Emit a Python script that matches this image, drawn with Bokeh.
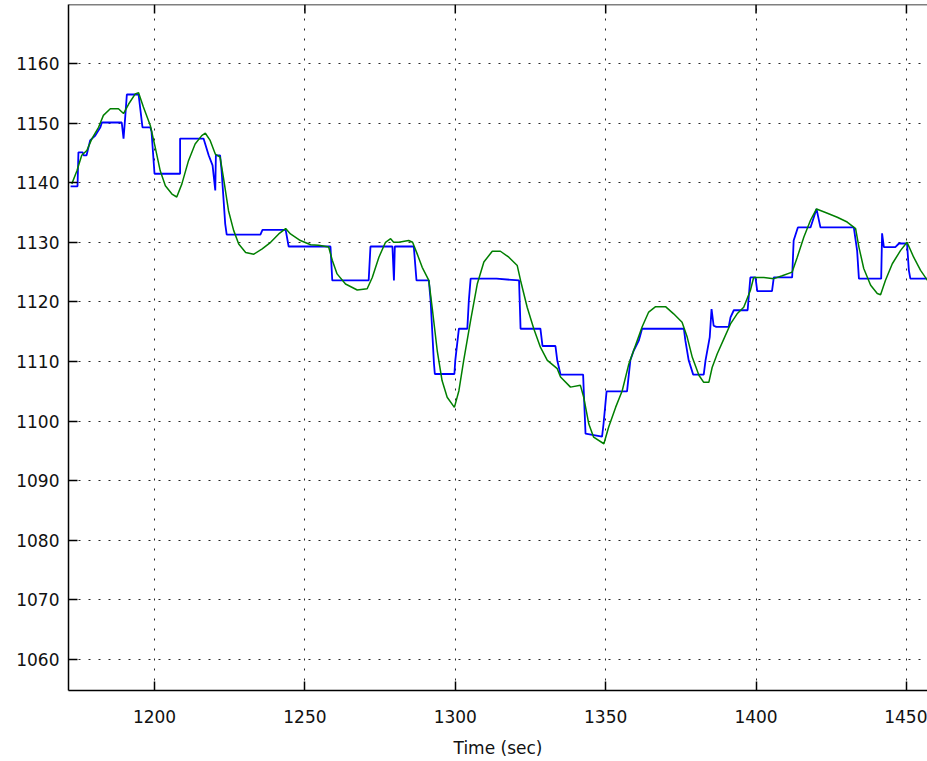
from bokeh.plotting import figure
from bokeh.models import Range1d, FixedTicker, Span
from bokeh.embed import file_html
from bokeh.resources import INLINE

x_ticks = [1200, 1250, 1300, 1350, 1400, 1450]
y_ticks = [1060, 1070, 1080, 1090, 1100, 1110, 1120, 1130, 1140, 1150, 1160]

blue_t = [1172.1, 1174.4, 1174.7, 1176.1, 1176.4, 1177.4, 1178.6, 1180.3, 1182.0, 1182.5,
          1189.1, 1189.7, 1190.3, 1190.8, 1194.7, 1196.0, 1198.6, 1199.0, 1200.0, 1208.5,
          1208.5, 1216.3, 1218.0, 1219.3, 1220.2, 1220.4, 1221.8, 1222.3, 1223.5, 1224.0,
          1235.2, 1235.9, 1243.6, 1244.6, 1258.5, 1259.1, 1271.2, 1271.8, 1279.1, 1279.6,
          1279.9, 1286.2, 1287.1, 1291.2, 1291.8, 1292.9, 1293.2, 1299.7, 1300.0, 1301.2,
          1304.0, 1304.5, 1305.1, 1313.7, 1321.2, 1321.7, 1328.3, 1329.0, 1333.3, 1333.9,
          1335.0, 1342.5, 1342.8, 1343.3, 1348.8, 1349.3, 1350.3, 1357.1, 1358.2, 1359.3,
          1361.0, 1362.1, 1376.0, 1376.5, 1377.6, 1379.1, 1382.6, 1383.2, 1384.6, 1385.2,
          1385.9, 1386.8, 1390.9, 1391.5, 1392.6, 1397.2, 1398.1, 1399.8, 1400.4, 1405.3,
          1405.9, 1412.0, 1412.5, 1413.9, 1418.1, 1420.1, 1421.4, 1432.5, 1433.6, 1434.2,
          1441.6, 1441.9, 1442.5, 1446.3, 1447.5, 1450.2, 1450.8, 1451.3, 1457.0]
blue_v = [1139.4, 1139.4, 1145.1, 1145.1, 1144.6, 1144.6, 1147.1, 1147.9, 1149.3, 1150.1,
          1150.1, 1147.4, 1151.3, 1154.8, 1154.8, 1149.3, 1149.3, 1148.6, 1141.5, 1141.5,
          1147.4, 1147.4, 1144.6, 1142.9, 1138.7, 1144.6, 1144.6, 1142.0, 1133.1, 1131.3,
          1131.3, 1132.1, 1132.1, 1129.3, 1129.3, 1123.6, 1123.6, 1129.3, 1129.3, 1123.6,
          1129.3, 1129.3, 1123.6, 1123.6, 1120.2, 1109.7, 1107.9, 1107.9, 1110.2, 1115.5,
          1115.5, 1120.2, 1123.9, 1123.9, 1123.6, 1115.5, 1115.5, 1112.6, 1112.6, 1110.2,
          1107.8, 1107.8, 1104.0, 1097.9, 1097.4, 1099.6, 1105.0, 1105.0, 1110.2, 1111.8,
          1113.5, 1115.5, 1115.5, 1113.5, 1110.2, 1107.8, 1107.8, 1110.2, 1114.1, 1118.8,
          1116.0, 1115.8, 1115.8, 1117.4, 1118.6, 1118.6, 1124.1, 1124.1, 1121.8, 1121.8,
          1124.1, 1124.1, 1130.3, 1132.5, 1132.5, 1135.6, 1132.5, 1132.5, 1128.6, 1123.9,
          1123.9, 1131.5, 1129.2, 1129.2, 1129.8, 1129.8, 1125.3, 1123.9, 1123.9]

green_t = [1172.5, 1174.2, 1175.8, 1177.5, 1179.2, 1181.4, 1183.0, 1185.3, 1188.0, 1189.7,
           1191.4, 1193.6, 1194.7, 1196.3, 1198.6, 1200.2, 1201.9, 1203.6, 1205.8, 1207.4,
           1209.1, 1211.3, 1213.5, 1215.7, 1216.9, 1218.5, 1220.2, 1221.8, 1222.9, 1224.6,
           1226.3, 1228.0, 1230.3, 1233.0, 1235.8, 1238.6, 1241.3, 1243.6, 1245.2, 1248.5,
           1251.9, 1254.6, 1257.9, 1259.1, 1260.7, 1263.5, 1267.4, 1270.7, 1272.4, 1274.6,
           1276.8, 1278.5, 1279.5, 1281.2, 1284.5, 1285.8, 1287.3, 1289.0, 1291.2, 1292.3,
           1294.0, 1295.6, 1297.3, 1299.7, 1301.2, 1302.8, 1305.1, 1307.3, 1309.5, 1312.3,
           1315.0, 1317.8, 1320.6, 1321.7, 1323.9, 1326.1, 1328.3, 1330.6, 1333.9, 1335.0,
           1338.3, 1341.6, 1342.7, 1344.4, 1346.0, 1349.4, 1351.0, 1353.3, 1355.5, 1357.7,
           1359.9, 1362.1, 1364.3, 1366.6, 1369.9, 1372.6, 1375.4, 1377.1, 1378.8, 1381.0,
           1382.6, 1384.3, 1385.4, 1387.1, 1389.3, 1391.5, 1393.7, 1395.9, 1398.1, 1399.2,
           1402.6, 1405.9, 1408.7, 1412.0, 1413.7, 1415.9, 1418.1, 1420.1, 1423.1, 1427.0,
           1430.3, 1433.1, 1434.2, 1435.8, 1438.1, 1440.3, 1441.4, 1443.0, 1445.3, 1448.0,
           1450.2, 1452.4, 1454.7, 1457.0]
green_v = [1139.8, 1142.0, 1144.6, 1145.4, 1147.4, 1149.3, 1151.3, 1152.4, 1152.4, 1151.6,
           1153.2, 1154.9, 1155.1, 1152.7, 1149.6, 1146.0, 1142.0, 1139.5, 1138.1, 1137.6,
           1139.8, 1143.7, 1146.5, 1147.9, 1148.3, 1147.1, 1144.8, 1144.3, 1140.9, 1135.3,
           1132.0, 1129.7, 1128.3, 1128.0, 1128.9, 1130.0, 1131.4, 1132.3, 1131.4, 1130.3,
           1129.6, 1129.5, 1129.2, 1127.0, 1124.7, 1123.0, 1122.0, 1122.2, 1124.1, 1127.5,
           1130.0, 1130.6, 1130.0, 1130.0, 1130.3, 1130.0, 1128.1, 1125.8, 1123.6, 1119.1,
           1111.8, 1106.8, 1104.0, 1102.3, 1105.1, 1110.2, 1116.9, 1123.0, 1126.7, 1128.5,
           1128.5, 1127.5, 1126.1, 1123.6, 1119.1, 1115.5, 1112.4, 1110.2, 1108.8, 1107.4,
           1105.7, 1106.0, 1104.0, 1099.5, 1097.3, 1096.2, 1099.0, 1102.3, 1105.1, 1109.6,
           1112.7, 1115.8, 1118.3, 1119.2, 1119.2, 1118.0, 1116.6, 1114.1, 1110.7, 1107.7,
           1106.5, 1106.5, 1109.0, 1111.3, 1113.8, 1116.3, 1118.0, 1119.1, 1121.9, 1124.1,
           1124.1, 1123.9, 1124.4, 1125.0, 1127.5, 1130.9, 1133.7, 1135.6, 1135.0, 1134.2,
           1133.4, 1132.3, 1129.2, 1125.6, 1122.8, 1121.4, 1121.2, 1123.6, 1126.4, 1128.6,
           1130.0, 1127.5, 1125.3, 1123.6]

FONT = "DejaVu Sans"
X0, X1 = 1171.4, 1457.0
Y0, Y1 = 1054.8, 1169.9

p = figure(width=927, height=761, output_backend="svg", toolbar_location=None,
           x_range=Range1d(X0, X1), y_range=Range1d(Y0, Y1),
           min_border_left=68, min_border_right=0, min_border_top=4, min_border_bottom=71)
p.outline_line_color = None
p.background_fill_color = "white"
p.border_fill_color = "white"

p.xaxis.axis_label = "Time (sec)"
for ax, ticks in ((p.xaxis, x_ticks), (p.yaxis, y_ticks)):
    ax.ticker = FixedTicker(ticks=ticks)
    ax.major_tick_in = 9
    ax.major_tick_out = 0
    ax.minor_tick_line_color = None
    ax.axis_line_color = "black"
    ax.axis_line_width = 1.5
    ax.major_tick_line_color = "black"
    ax.major_tick_line_width = 1.5
    ax.major_label_text_font = FONT
    ax.major_label_text_font_size = "17px"
    ax.major_label_text_color = "#111111"
p.xaxis.major_label_standoff = 19
p.yaxis.major_label_standoff = 9
p.xaxis.axis_label_text_font = FONT
p.xaxis.axis_label_text_font_size = "17px"
p.xaxis.axis_label_text_font_style = "normal"
p.xaxis.axis_label_text_color = "#111111"
p.xaxis.axis_label_standoff = 12

# top border of the axes box, with its inward ticks
p.add_layout(Span(location=Y1, dimension="width", line_color="black", line_width=1.5))
tick_len = 9 * (Y1 - Y0) / 686.0
p.segment(x0=x_ticks, y0=[Y1] * len(x_ticks), x1=x_ticks, y1=[Y1 - tick_len] * len(x_ticks),
          line_color="black", line_width=1.5)

for g in (p.xgrid, p.ygrid):
    g.grid_line_color = "black"
    g.grid_line_dash = "2 8"
    g.grid_line_width = 1
    g.grid_line_alpha = 0.85
p.xgrid.ticker = FixedTicker(ticks=x_ticks)
p.ygrid.ticker = FixedTicker(ticks=y_ticks)

p.line(blue_t, blue_v, line_color="#0000ff", line_width=1.8)
p.line(green_t, green_v, line_color="#007f00", line_width=1.5)

open("out.html", "w").write(file_html(p, INLINE))
